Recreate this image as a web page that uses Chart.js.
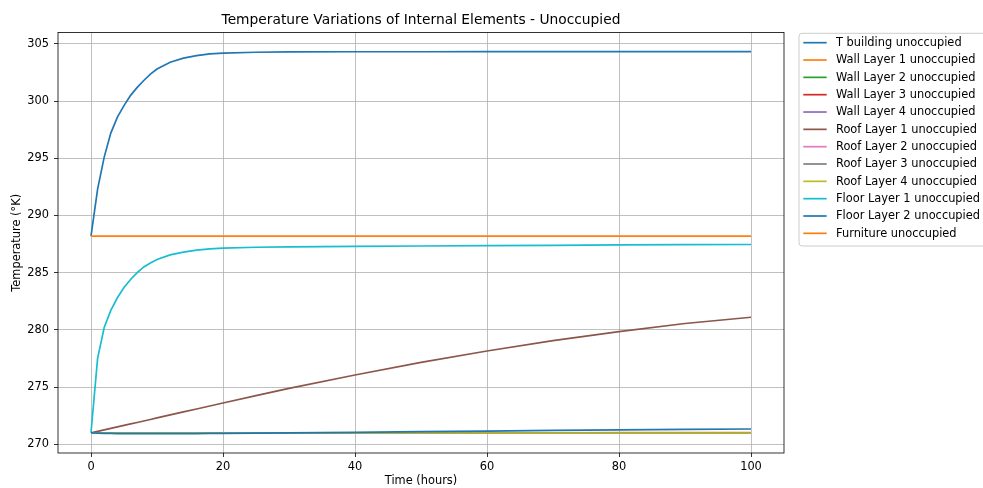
<!DOCTYPE html>
<html>
<head>
<meta charset="utf-8">
<script src="https://cdn.jsdelivr.net/npm/chart.js@4.4.1/dist/chart.umd.min.js"></script>
<style>
  html, body { margin: 0; padding: 0; background: #ffffff; }
  #wrap { width: 983px; height: 488px; position: relative; }
</style>
</head>
<body>
<div id="wrap"><canvas id="c" width="983" height="488"></canvas></div>
<script>
// ---- data ----
const times = [0, 1, 2, 3, 4, 5, 6, 7, 8, 9, 10, 12, 14, 16, 18, 20, 25, 30, 40, 50, 60, 70, 80, 90, 100];

const tBuilding = [288.2, 292.3, 295.1, 297.2, 298.6, 299.6, 300.5, 301.2, 301.8, 302.35, 302.8, 303.4, 303.75, 303.98, 304.12, 304.2, 304.27, 304.3, 304.31, 304.31, 304.32, 304.32, 304.32, 304.32, 304.32];
const wallLayer1 = [271.0, 270.99, 270.98, 270.98, 270.98, 270.98, 270.98, 270.98, 270.98, 270.98, 270.98, 270.98, 270.98, 270.98, 270.98, 270.98, 270.98, 270.98, 270.99, 270.99, 271.0, 271.0, 271.01, 271.01, 271.02];
const wallLayer2 = [271.0, 271.0, 270.99, 270.99, 270.99, 270.99, 270.99, 270.99, 270.99, 270.99, 270.99, 270.99, 270.99, 270.99, 270.99, 270.99, 270.99, 270.99, 270.99, 270.99, 271.0, 271.0, 271.0, 271.0, 271.0];
const wallLayer3 = [271.0, 271.0, 271.0, 271.0, 271.0, 271.0, 271.0, 271.0, 271.0, 271.0, 271.0, 271.0, 271.0, 271.0, 271.0, 271.0, 271.0, 271.0, 271.0, 271.0, 271.0, 271.0, 271.0, 271.0, 271.0];
const wallLayer4 = [271.0, 271.0, 271.0, 271.0, 271.0, 271.0, 271.0, 271.0, 271.0, 271.0, 271.0, 271.0, 271.0, 271.0, 271.0, 271.0, 271.0, 271.0, 271.0, 271.0, 271.0, 271.0, 271.0, 271.0, 271.0];
const roofLayer1 = [271.0, 271.12, 271.25, 271.38, 271.51, 271.64, 271.77, 271.9, 272.03, 272.16, 272.3, 272.56, 272.82, 273.08, 273.34, 273.6, 274.25, 274.88, 276.05, 277.15, 278.15, 279.05, 279.85, 280.55, 281.1];
const roofLayer2 = [271.0, 270.99, 270.99, 270.99, 270.99, 270.99, 270.99, 270.99, 270.99, 270.99, 270.99, 270.99, 270.99, 270.99, 270.99, 270.99, 270.99, 270.99, 270.99, 270.99, 270.99, 270.99, 270.99, 270.99, 270.99];
const roofLayer3 = [271.0, 271.0, 271.0, 271.0, 271.0, 271.0, 271.0, 271.0, 271.0, 271.0, 271.0, 271.0, 271.0, 271.0, 271.0, 271.0, 271.0, 271.0, 271.0, 271.0, 271.0, 271.0, 271.0, 271.0, 271.0];
const roofLayer4 = [271.0, 270.99, 270.98, 270.98, 270.98, 270.98, 270.98, 270.98, 270.98, 270.98, 270.98, 270.98, 270.98, 270.98, 270.98, 270.98, 270.98, 270.98, 270.98, 270.98, 270.98, 270.98, 270.98, 270.98, 270.98];
const floorLayer1 = [271.0, 277.5, 280.2, 281.7, 282.8, 283.7, 284.4, 285.0, 285.5, 285.85, 286.15, 286.55, 286.8, 286.97, 287.08, 287.15, 287.22, 287.25, 287.3, 287.33, 287.36, 287.39, 287.42, 287.44, 287.46];
const floorLayer2 = [271.0, 270.97, 270.95, 270.94, 270.93, 270.93, 270.92, 270.92, 270.92, 270.92, 270.92, 270.92, 270.93, 270.93, 270.94, 270.95, 270.97, 270.99, 271.04, 271.1, 271.15, 271.2, 271.25, 271.29, 271.33];
const furniture = [288.2, 288.2, 288.2, 288.2, 288.2, 288.2, 288.2, 288.2, 288.2, 288.2, 288.2, 288.2, 288.2, 288.2, 288.2, 288.2, 288.2, 288.2, 288.2, 288.2, 288.2, 288.2, 288.2, 288.2, 288.2];

const seriesNames = [
  'T building unoccupied', 'Wall Layer 1 unoccupied', 'Wall Layer 2 unoccupied',
  'Wall Layer 3 unoccupied', 'Wall Layer 4 unoccupied', 'Roof Layer 1 unoccupied',
  'Roof Layer 2 unoccupied', 'Roof Layer 3 unoccupied', 'Roof Layer 4 unoccupied',
  'Floor Layer 1 unoccupied', 'Floor Layer 2 unoccupied', 'Furniture unoccupied'
];
const seriesValues = [tBuilding, wallLayer1, wallLayer2, wallLayer3, wallLayer4, roofLayer1,
  roofLayer2, roofLayer3, roofLayer4, floorLayer1, floorLayer2, furniture];

const xTicks = [0, 20, 40, 60, 80, 100];
const yTicks = [270, 275, 280, 285, 290, 295, 300, 305];

// ---- styling ----
const colors = ['#1f77b4', '#ff7f0e', '#2ca02c', '#d62728', '#9467bd', '#8c564b',
  '#e377c2', '#7f7f7f', '#bcbd22', '#17becf', '#1f77b4', '#ff7f0e'];
const FONT = "'DejaVu Sans', 'Liberation Sans', sans-serif";

const N = seriesNames.length;
const datasets = seriesNames.map((name, i) => ({
  label: name,
  data: times.map((t, k) => ({ x: t, y: seriesValues[i][k] })),
  borderColor: colors[i],
  backgroundColor: colors[i],
  borderWidth: 1.7,
  pointRadius: 0,
  tension: 0,
  fill: false,
  order: N - 1 - i   // later series drawn on top, like matplotlib
}));

const framePlugin = {
  id: 'frameAndLegend',
  afterDraw(chart) {
    const ctx = chart.ctx;
    const a = chart.chartArea;
    ctx.save();
    // axes frame
    ctx.strokeStyle = '#000000';
    ctx.lineWidth = 0.8;
    ctx.strokeRect(a.left, a.top, a.right - a.left, a.bottom - a.top);

    // legend (matplotlib style, outside the axes at upper left)
    const bx = 799, by = 33.3, bw = 200, bh = 212.7, r = 3;
    ctx.beginPath();
    ctx.moveTo(bx + r, by);
    ctx.lineTo(bx + bw - r, by);
    ctx.arcTo(bx + bw, by, bx + bw, by + r, r);
    ctx.lineTo(bx + bw, by + bh - r);
    ctx.arcTo(bx + bw, by + bh, bx + bw - r, by + bh, r);
    ctx.lineTo(bx + r, by + bh);
    ctx.arcTo(bx, by + bh, bx, by + bh - r, r);
    ctx.lineTo(bx, by + r);
    ctx.arcTo(bx, by, bx + r, by, r);
    ctx.closePath();
    ctx.fillStyle = 'rgba(255,255,255,0.8)';
    ctx.fill();
    ctx.strokeStyle = '#cccccc';
    ctx.lineWidth = 1;
    ctx.stroke();

    ctx.font = '11.4px ' + FONT;
    ctx.textBaseline = 'middle';
    ctx.textAlign = 'left';
    chart.data.datasets.forEach((ds, i) => {
      const y = 42.7 + i * 17.33;
      ctx.strokeStyle = ds.borderColor;
      ctx.lineWidth = 1.7;
      ctx.beginPath();
      ctx.moveTo(803.3, y);
      ctx.lineTo(826.7, y);
      ctx.stroke();
      ctx.fillStyle = '#000000';
      ctx.fillText(ds.label, 836, y + 0.5);
    });
    ctx.restore();
  }
};

new Chart(document.getElementById('c'), {
  type: 'line',
  data: { datasets },
  plugins: [framePlugin],
  options: {
    responsive: false,
    animation: false,
    devicePixelRatio: 1,
    layout: { padding: { left: 0, right: 199, top: 0, bottom: 0 } },
    plugins: {
      legend: { display: false },
      tooltip: { enabled: false },
      title: {
        display: true,
        fullSize: false,
        text: 'Temperature Variations of Internal Elements - Unoccupied',
        color: '#000000',
        font: { family: FONT, size: 13.8, weight: 'normal', lineHeight: 1.2 },
        padding: { top: 12, bottom: 4 }
      }
    },
    scales: {
      x: {
        type: 'linear',
        min: -5,
        max: 105,
        afterBuildTicks: (s) => { s.ticks = xTicks.map(v => ({ value: v })); },
        afterFit: (s) => { s.height = 35; },
        grid: { color: '#b0b0b0', lineWidth: 0.8, tickColor: '#000000', tickLength: 4, drawTicks: true },
        border: { display: false },
        ticks: { color: '#000000', font: { family: FONT, size: 11.4 }, padding: 3, maxRotation: 0, autoSkip: false },
        title: { display: true, text: 'Time (hours)', color: '#000000',
                 font: { family: FONT, size: 11.4, lineHeight: 1.2 }, padding: { top: 0, bottom: 0 } }
      },
      y: {
        type: 'linear',
        min: 269.23,
        max: 305.99,
        afterBuildTicks: (s) => { s.ticks = yTicks.map(v => ({ value: v })); },
        afterFit: (s) => { s.width = 58; },
        grid: { color: '#b0b0b0', lineWidth: 0.8, tickColor: '#000000', tickLength: 4, drawTicks: true },
        border: { display: false },
        ticks: { color: '#000000', font: { family: FONT, size: 11.4 }, padding: 5, autoSkip: false },
        title: { display: true, text: 'Temperature (°K)', color: '#000000',
                 font: { family: FONT, size: 11.4, lineHeight: 1.2 }, padding: { top: 10, bottom: 0 } }
      }
    }
  }
});
</script>
</body>
</html>
